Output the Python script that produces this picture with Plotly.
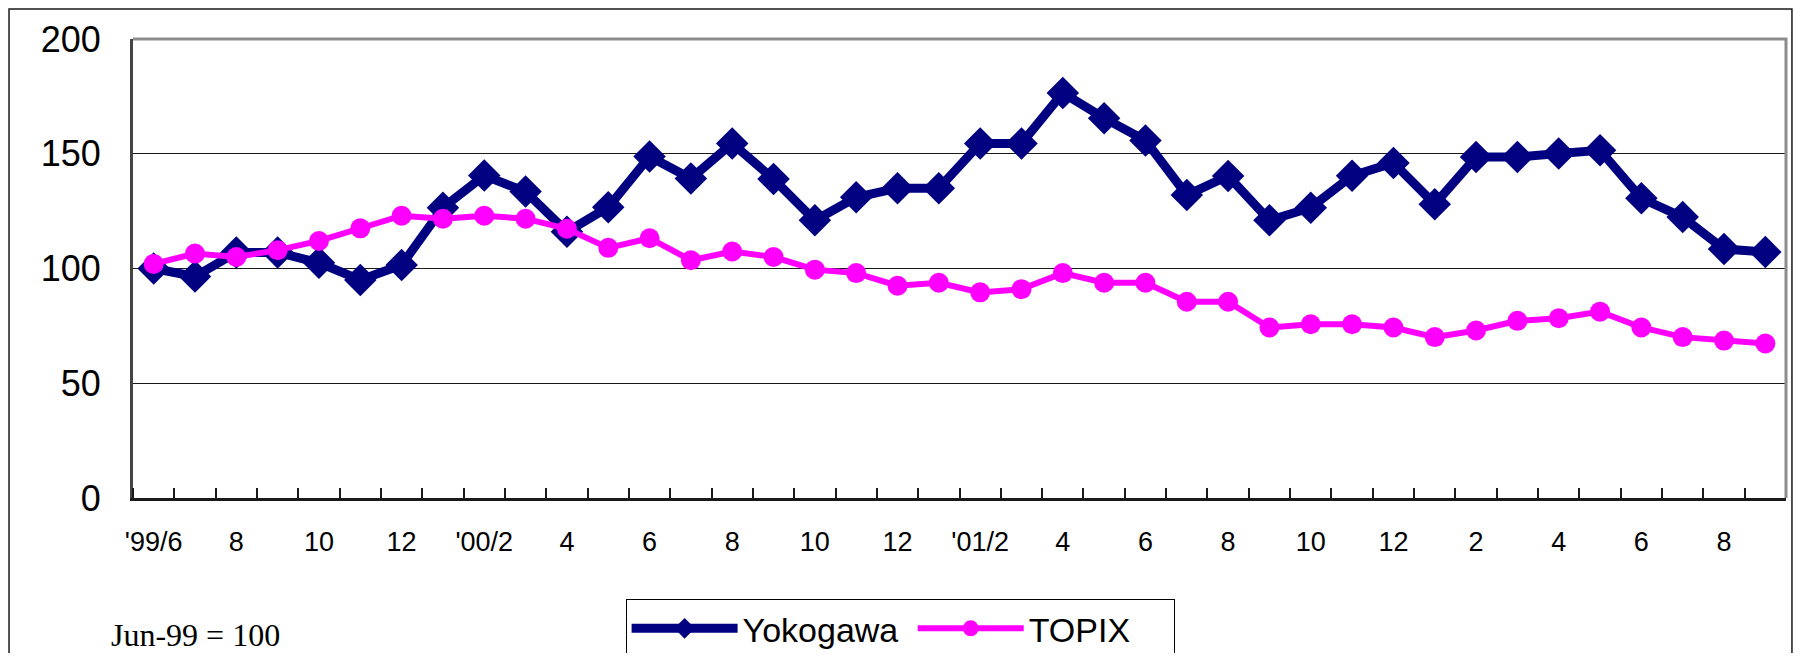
import plotly.graph_objects as go

months = ["1999/06", "1999/07", "1999/08", "1999/09", "1999/10", "1999/11", "1999/12",
          "2000/01", "2000/02", "2000/03", "2000/04", "2000/05", "2000/06", "2000/07",
          "2000/08", "2000/09", "2000/10", "2000/11", "2000/12", "2001/01", "2001/02",
          "2001/03", "2001/04", "2001/05", "2001/06", "2001/07", "2001/08", "2001/09",
          "2001/10", "2001/11", "2001/12", "2002/01", "2002/02", "2002/03", "2002/04",
          "2002/05", "2002/06", "2002/07", "2002/08", "2002/09"]

yokogawa = [100, 96.5, 107, 107, 102.5, 95, 101.5, 126.5, 140.5, 133.5,
            116, 126.7, 148.8, 139.2, 154.5, 139, 121, 131, 135, 135,
            154.5, 154.5, 176.5, 165.5, 155.8, 132, 140.3, 121, 126.5, 140.4,
            146, 128, 148.6, 148.6, 150.1, 151.5, 130.6, 122.4, 108.5, 107.2]

topix = [102, 106.5, 105, 108, 112, 117.5, 123, 121.7, 123, 121.7,
         117.3, 109, 113.2, 103.6, 107.4, 105, 99.5, 98, 92.5, 93.8,
         89.6, 91, 98, 93.8, 93.8, 85.5, 85.5, 74.3, 75.7, 75.7,
         74.3, 70.1, 73, 77.2, 78.3, 81.2, 74.3, 70.1, 68.6, 67.3]

tick_labels = ["'99/6", "8", "10", "12", "'00/2", "4", "6", "8", "10", "12",
               "'01/2", "4", "6", "8", "10", "12", "2", "4", "6", "8"]

y_ticks = [0, 50, 100, 150, 200]

idx = list(range(len(months)))
tick_positions = idx[::2]

fig = go.Figure()
fig.add_trace(go.Scatter(
    x=idx, y=yokogawa, name="Yokogawa\u00a0", mode="lines+markers",
    line=dict(color="#000080", width=9),
    marker=dict(symbol="diamond", size=25, color="#000080"),
    customdata=months,
))
fig.add_trace(go.Scatter(
    x=idx, y=topix, name="TOPIX\u00a0\u00a0\u00a0\u00a0", mode="lines+markers",
    line=dict(color="#FF00FF", width=6),
    marker=dict(symbol="circle", size=20, color="#FF00FF"),
    customdata=months,
))

fig.update_layout(
    width=1785, height=645, autosize=False,
    margin=dict(l=125, r=7, t=31, b=155, autoexpand=False),
    paper_bgcolor="white", plot_bgcolor="white",
    font=dict(family="Liberation Sans, Arial", color="black"),
    showlegend=True,
    legend=dict(orientation="h", x=0.298, y=-0.2195, xanchor="left", yanchor="top",
                bgcolor="white", bordercolor="black", borderwidth=1,
                font=dict(size=34), itemwidth=106, traceorder="normal"),
    xaxis=dict(range=[-0.5, len(months) - 0.5], tickmode="array",
               tickvals=tick_positions, ticktext=tick_labels, ticks="",
               tickfont=dict(size=27), ticklabelstandoff=18,
               showgrid=False, zeroline=False, showline=True,
               linecolor="#1a1a1a", linewidth=3,
               minor=dict(tick0=0.5, dtick=1, ticks="inside", ticklen=10,
                          tickcolor="#1a1a1a", tickwidth=1.5, showgrid=False)),
    yaxis=dict(range=[0, 200], tickmode="array", tickvals=y_ticks, ticks="",
               tickfont=dict(size=36), ticklabelstandoff=22,
               showgrid=True, gridcolor="#1a1a1a", gridwidth=1,
               zeroline=False, showline=True, linecolor="#444444", linewidth=3),
    shapes=[
        dict(type="path", xref="paper", yref="paper",
             path="M 0,1 L 1,1 L 1,0",
             line=dict(color="#8c8c8c", width=3), layer="above"),
        dict(type="rect", xref="paper", yref="paper", x0=-0.0750, x1=1.0036,
             y0=-0.4, y1=1.0654, line=dict(color="#1a1a1a", width=1.5), layer="below"),
    ],
    annotations=[
        dict(text="Jun-99 = 100", xref="paper", yref="paper", x=-0.0145, y=-0.2985,
             xanchor="left", yanchor="middle", showarrow=False,
             font=dict(family="Liberation Serif, Times New Roman", size=32, color="black")),
    ],
)

fig.write_html("out.html")
